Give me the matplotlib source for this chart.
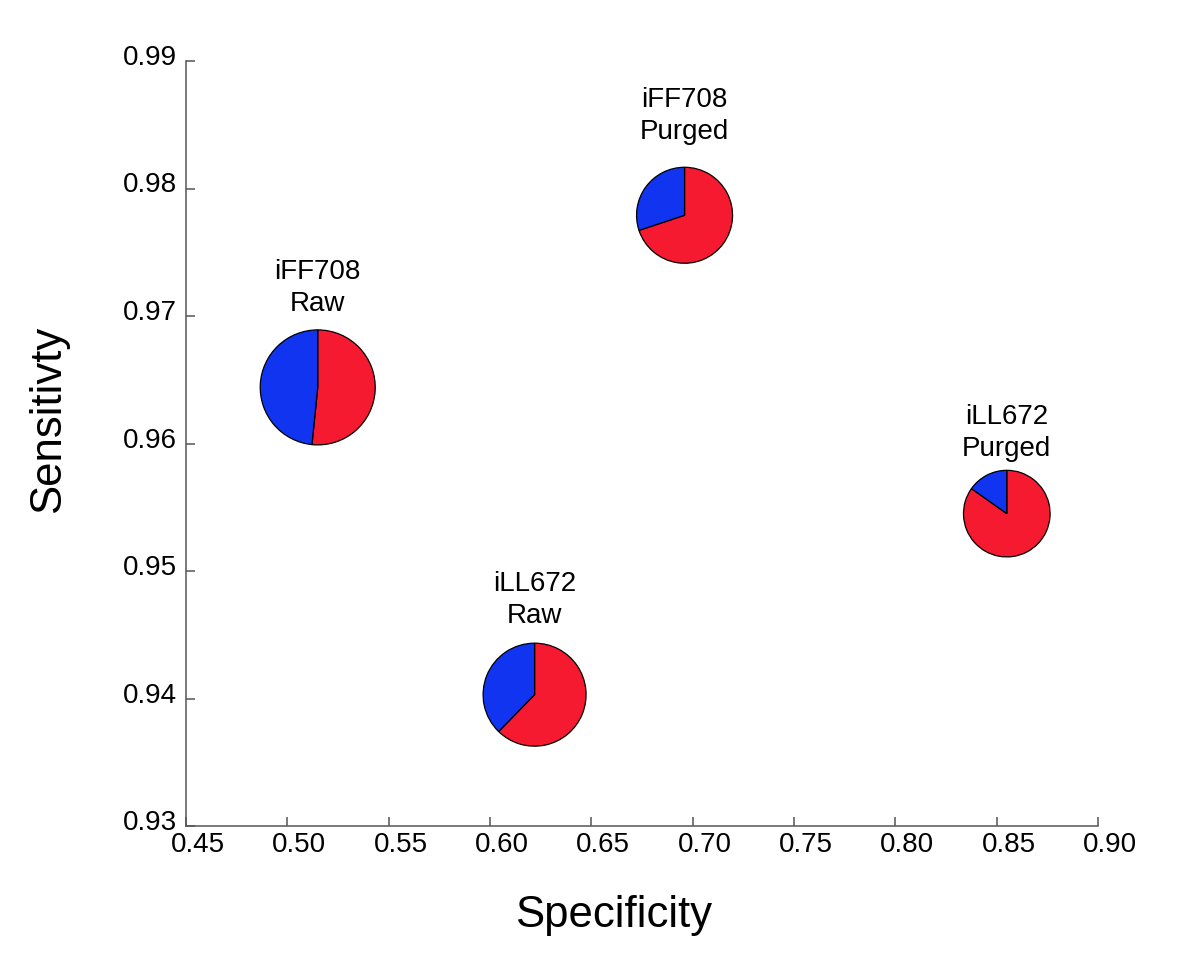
import matplotlib
matplotlib.use("Agg")
import matplotlib.pyplot as plt
import matplotlib.transforms as mtransforms
from matplotlib.patches import Wedge

# ---- data ----
names = ["iFF708\nRaw", "iFF708\nPurged", "iLL672\nRaw", "iLL672\nPurged"]
specificity = [0.515, 0.696, 0.622, 0.855]
sensitivity = [0.9644, 0.9779, 0.9403, 0.9545]
red_fraction = [0.516, 0.699, 0.623, 0.848]
blue_fraction = [1 - f for f in red_fraction]
pie_size = [57.5, 48.0, 51.5, 43.3]  # relative pie radius

xticks = [0.45, 0.50, 0.55, 0.60, 0.65, 0.70, 0.75, 0.80, 0.85, 0.90]
yticks = [0.93, 0.94, 0.95, 0.96, 0.97, 0.98, 0.99]

# ---- style / layout ----
RED = "#F51A30"
BLUE = "#1034F0"
label_offset_px = [70, 70, 66, 52]
FONT = ["Liberation Sans", "DejaVu Sans"]
plt.rcParams["font.family"] = FONT

W, H, DPI = 12.0, 9.65, 100
fig = plt.figure(figsize=(W, H), dpi=DPI)
L, R, B, T = 186, 1098, 826, 61
ax = fig.add_axes([L / 1200, 1 - B / 965, (R - L) / 1200, (B - T) / 965])
ax.set_xlim(0.45, 0.90)
ax.set_ylim(0.93, 0.99)
ax.spines["top"].set_visible(False)
ax.spines["right"].set_visible(False)
for s in ("left", "bottom"):
    ax.spines[s].set_color("#555555")
    ax.spines[s].set_linewidth(1.1)

ax.set_xticks(xticks)
ax.set_xticklabels([f"{v:.2f}" for v in xticks])
ax.set_yticks(yticks)
ax.set_yticklabels([f"{v:.2f}" for v in yticks])
ax.tick_params(direction="in", length=6.5, width=1.1, color="#555555",
               labelsize=20, top=False, right=False)
ax.tick_params(axis="x", pad=4)
ax.tick_params(axis="y", pad=6.5)

for lab in ax.get_xticklabels():
    lab.set_transform(lab.get_transform() +
                      mtransforms.ScaledTranslation(12 / DPI, 0, fig.dpi_scale_trans))
for lab in ax.get_yticklabels():
    lab.set_transform(lab.get_transform() +
                      mtransforms.ScaledTranslation(0, 6 / DPI, fig.dpi_scale_trans))

for i in range(len(names)):
    x, y = specificity[i], sensitivity[i]
    r_in = pie_size[i] / DPI
    trans = (mtransforms.Affine2D().scale(r_in) + fig.dpi_scale_trans +
             mtransforms.ScaledTranslation(x, y, ax.transData))
    red_deg = red_fraction[i] * 360
    blue_deg = blue_fraction[i] * 360
    ax.add_patch(Wedge((0, 0), 1, 90 - red_deg, 90, transform=trans,
                       facecolor=RED, edgecolor="black", linewidth=0.9))
    ax.add_patch(Wedge((0, 0), 1, 90, 90 + blue_deg, transform=trans,
                       facecolor=BLUE, edgecolor="black", linewidth=0.9))
    ax.annotate(names[i], xy=(x, y), xycoords="data",
                xytext=(0, label_offset_px[i] * 72 / DPI), textcoords="offset points",
                ha="center", va="bottom", multialignment="center",
                fontsize=20, linespacing=1.3)

fig.text(614 / 1200, 1 - 927 / 965, "Specificity", ha="center", va="baseline",
         fontsize=31.5)
fig.text(49 / 1200, 1 - 419 / 965, "Sensitivty", ha="center", va="center",
         rotation=90, fontsize=31.5)

fig.savefig("out.png", dpi=DPI)
